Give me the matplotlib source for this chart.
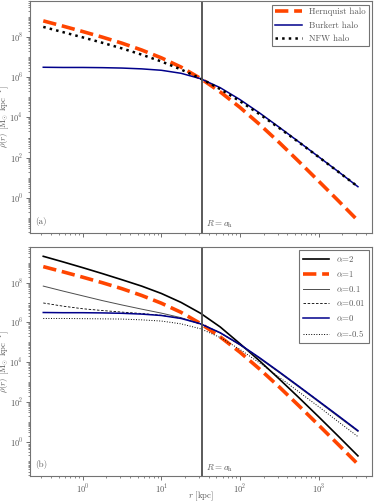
import numpy as np
import matplotlib
matplotlib.use("Agg")
import matplotlib.pyplot as plt
from matplotlib.ticker import LogLocator, NullFormatter

# radius grid [kpc], read at every quarter decade
r = [0.316, 0.562, 1.0, 1.78, 3.16, 5.62, 10.0, 17.8, 31.6, 56.2,
     100.0, 178.0, 316.0, 562.0, 1000.0, 1780.0, 3160.0]
a_h = 33.0

# log10 density, panel (a)
hernquist = [8.81, 8.55, 8.28, 8.00, 7.70, 7.36, 6.97, 6.51, 5.94, 5.27,
             4.50, 3.65, 2.75, 1.80, 0.83, -0.15, -1.14]
burkert = [6.50, 6.49, 6.49, 6.48, 6.46, 6.42, 6.35, 6.20, 5.93, 5.48,
           4.89, 4.22, 3.51, 2.78, 2.04, 1.30, 0.55]
nfw = [8.51, 8.25, 7.99, 7.72, 7.44, 7.13, 6.79, 6.39, 5.94, 5.41,
       4.81, 4.16, 3.47, 2.76, 2.03, 1.29, 0.55]

# panel (b): alpha family
alpha_2 = [9.33, 9.05, 8.76, 8.46, 8.15, 7.83, 7.46, 7.01, 6.46, 5.77,
           4.93, 4.06, 3.15, 2.21, 1.25, 0.27, -0.72]
alpha_1 = hernquist
alpha_01 = [7.83, 7.58, 7.34, 7.10, 6.88, 6.67, 6.47, 6.24, 5.93, 5.46,
            4.86, 4.18, 3.47, 2.74, 2.00, 1.25, 0.51]
alpha_001 = [6.98, 6.82, 6.69, 6.60, 6.52, 6.45, 6.36, 6.21, 5.93, 5.48,
             4.88, 4.21, 3.50, 2.78, 2.04, 1.29, 0.55]
alpha_0 = burkert
alpha_m05 = [6.20, 6.20, 6.19, 6.18, 6.17, 6.13, 6.07, 5.93, 5.68, 5.24,
             4.64, 3.96, 3.24, 2.50, 1.76, 1.00, 0.25]

plt.rcParams['font.family'] = 'serif'
plt.rcParams['font.serif'] = ['cmr10', 'DejaVu Serif']
plt.rcParams['mathtext.fontset'] = 'cm'
plt.rcParams['axes.formatter.use_mathtext'] = True
plt.rcParams['axes.unicode_minus'] = False
plt.rcParams['text.color'] = '0.35'
plt.rcParams['xtick.color'] = '0.35'
plt.rcParams['ytick.color'] = '0.35'
plt.rcParams['axes.labelcolor'] = '0.35'
plt.rcParams['axes.edgecolor'] = '0.45'
plt.rcParams['font.size'] = 6

orange = '#FF4500'
navy = '#00008B'

fig = plt.figure(figsize=(3.74, 5.03), dpi=100)
ax1 = fig.add_axes([0.080, 0.537, 0.915, 0.461])
ax2 = fig.add_axes([0.080, 0.053, 0.915, 0.456], sharex=ax1)


def tolin(v):
    return [10 ** x for x in v]


ax1.plot(r, tolin(hernquist), color=orange, ls='--', lw=2.6, label='Hernquist halo')
ax1.plot(r, tolin(burkert), color=navy, lw=1.1, label='Burkert halo')
ax1.plot(r, tolin(nfw), color='black', ls=':', lw=1.8, label='NFW halo')

ax2.plot(r, tolin(alpha_2), color='black', lw=1.2, label=r'$\alpha$=2')
ax2.plot(r, tolin(alpha_1), color=orange, ls='--', lw=2.6, label=r'$\alpha$=1')
ax2.plot(r, tolin(alpha_01), color='0.3', lw=0.7, label=r'$\alpha$=0.1')
ax2.plot(r, tolin(alpha_001), color='black', ls='--', lw=0.6, dashes=(3, 2), label=r'$\alpha$=0.01')
ax2.plot(r, tolin(alpha_0), color=navy, lw=1.1, label=r'$\alpha$=0')
ax2.plot(r, tolin(alpha_m05), color='black', ls=':', lw=0.7, label=r'$\alpha$=-0.5')

for ax, tag in [(ax1, '(a)'), (ax2, '(b)')]:
    ax.set_xscale('log')
    ax.set_yscale('log')
    ax.set_xlim(10 ** -0.67, 10 ** 3.68)
    ax.set_ylim(10 ** -1.75, 10 ** 9.8)
    ax.axvline(a_h, color='0.3', lw=1.3)
    ax.text(0.015, 0.04, tag, transform=ax.transAxes, fontsize=6.5)
    ax.text(a_h * 1.12, 10 ** -1.45, r'$R=a_{\rm h}$', fontsize=6.5)
    ax.set_ylabel(r'$\rho(r)$ [M$_{\odot}$ kpc$^{-1}$]', fontsize=6.3)
    ax.yaxis.set_major_locator(LogLocator(base=100, numticks=10))
    ax.yaxis.set_minor_locator(LogLocator(base=10, subs=np.arange(1, 10), numticks=30))
    ax.yaxis.set_minor_formatter(NullFormatter())
    ax.xaxis.set_minor_locator(LogLocator(base=10, subs=np.arange(2, 10), numticks=30))
    ax.xaxis.set_minor_formatter(NullFormatter())
    ax.tick_params(which='major', length=3, width=0.6, pad=2, labelsize=6)
    ax.tick_params(which='minor', length=1.6, width=0.5)
    for s in ax.spines.values():
        s.set_linewidth(0.8)
    leg = ax.legend(loc='upper right', fontsize=6.3, fancybox=False, framealpha=1,
                    edgecolor='0.45', handlelength=3.0, borderaxespad=0.4,
                    labelspacing=0.55)
    leg.get_frame().set_linewidth(0.8)
    ax.yaxis.set_label_coords(-0.051, 0.5)

plt.setp(ax1.get_xticklabels(), visible=False)
ax2.set_xlabel(r'$r$ [kpc]', fontsize=6.3)
ax2.xaxis.set_label_coords(0.5, -0.06)

fig.savefig('out.png', dpi=100)
